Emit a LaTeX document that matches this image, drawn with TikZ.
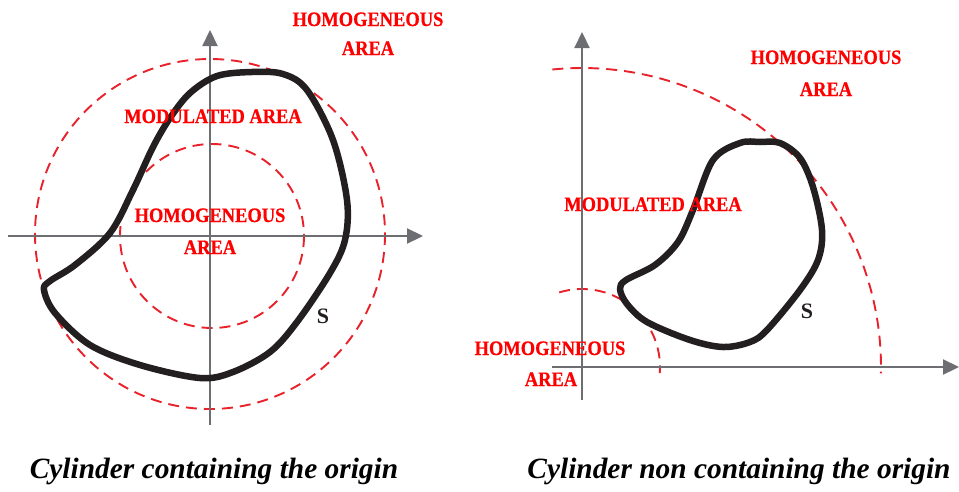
\documentclass[tikz,border=0pt]{standalone}
\usepackage{fontspec}
\setmainfont{Liberation Serif}
\newfontfamily\zonefont[FakeStretch=0.9,BoldFeatures={FakeBold=0.6}]{Liberation Serif}
\usepackage{tikz}
\usetikzlibrary{arrows.meta}
\usepackage{xcolor}
\definecolor{zonered}{HTML}{E8212A}
\definecolor{lblred}{HTML}{FF0000}
\definecolor{ink}{HTML}{231F20}
\definecolor{axisgray}{HTML}{6D6E71}
\tikzset{
  axis/.style={draw=axisgray,line width=2.2pt,-{Triangle[length=16pt,width=15pt]}},
  zone/.style={draw=zonered,line width=1.9pt,dash pattern=on 11pt off 7pt},
  contour/.style={draw=ink,line width=6.5pt,line join=round},
  zonelbl/.style={anchor=base,text=lblred,inner sep=0pt,font=\zonefont\bfseries\fontsize{20.5}{22}\selectfont},
  surflbl/.style={anchor=base,text=ink,inner sep=0pt,font=\bfseries\fontsize{22}{24}\selectfont},
  caption/.style={anchor=base,text=black,inner sep=0pt,font=\bfseries\itshape\fontsize{29.4}{32}\selectfont},
}
\begin{document}
\begin{tikzpicture}[x=1pt,y=-1pt]
\useasboundingbox (0,0) rectangle (959,491);

% left: cylinder containing the origin
\coordinate (oL) at (210,236);
\draw[zone] (210,234) circle[radius=175];
\draw[zone] (212,236) circle[radius=92];
\draw[axis] (oL) ++(-202,0) -- ++(415,0);
\draw[axis] (oL) ++(0,189) -- ++(0,-395);
\draw[contour] plot[smooth cycle,tension=0.55] coordinates {
  (190,93) (217,76) (252,72) (283,74) (307,90) (333,140) (347,200) (345,240)
  (330,273) (297,322) (270,352) (233,372) (200,378) (140,365) (90,345)
  (55,313) (44,290) (50,281) (75,265) (110,233) (133,190) (153,147) (170,118)};

\node[zonelbl] (hoLout) at (368,26) {HOMOGENEOUS};
\node[zonelbl] (arLout) at (368,55) {AREA};
\node[zonelbl] (modL) at (213,123) {MODULATED AREA};
\node[zonelbl] (hoLin) at (210,222) {HOMOGENEOUS};
\node[zonelbl] (arLin) at (210,254) {AREA};
\node[surflbl] (sL) at (323,323) {S};

% right: cylinder non containing the origin
\coordinate (oR) at (582,367);
\draw[zone] (oR) ++(-95.7:299) arc[start angle=-95.7,end angle=1.2,radius=299];
\draw[zone] (oR) ++(-107:78) arc[start angle=-107,end angle=4.5,radius=78];
\draw[axis] (oR) ++(-30,0) -- ++(407,0);
\draw[axis] (oR) ++(0,33) -- ++(0,-368);
\draw[contour] plot[smooth cycle,tension=0.55] coordinates {
  (713,160) (740,143) (760,142) (780,143) (800,158) (813,187) (822,230)
  (818,260) (800,290) (767,330) (750,342) (723,347) (690,340) (647,322)
  (627,304) (620,289) (626,280) (655,265) (678,242) (693,210)};

\node[zonelbl] (hoRout) at (826,64) {HOMOGENEOUS};
\node[zonelbl] (arRout) at (826,96) {AREA};
\node[zonelbl] (modR) at (653,211) {MODULATED AREA};
\node[zonelbl] (hoRin) at (550,355) {HOMOGENEOUS};
\node[zonelbl] (arRin) at (551,386) {AREA};
\node[surflbl] (sR) at (807,318) {S};

\node[caption] (capL) at (214,478) {Cylinder containing the origin};
\node[caption] (capR) at (739,478) {Cylinder non containing the origin};

\end{tikzpicture}
\end{document}
